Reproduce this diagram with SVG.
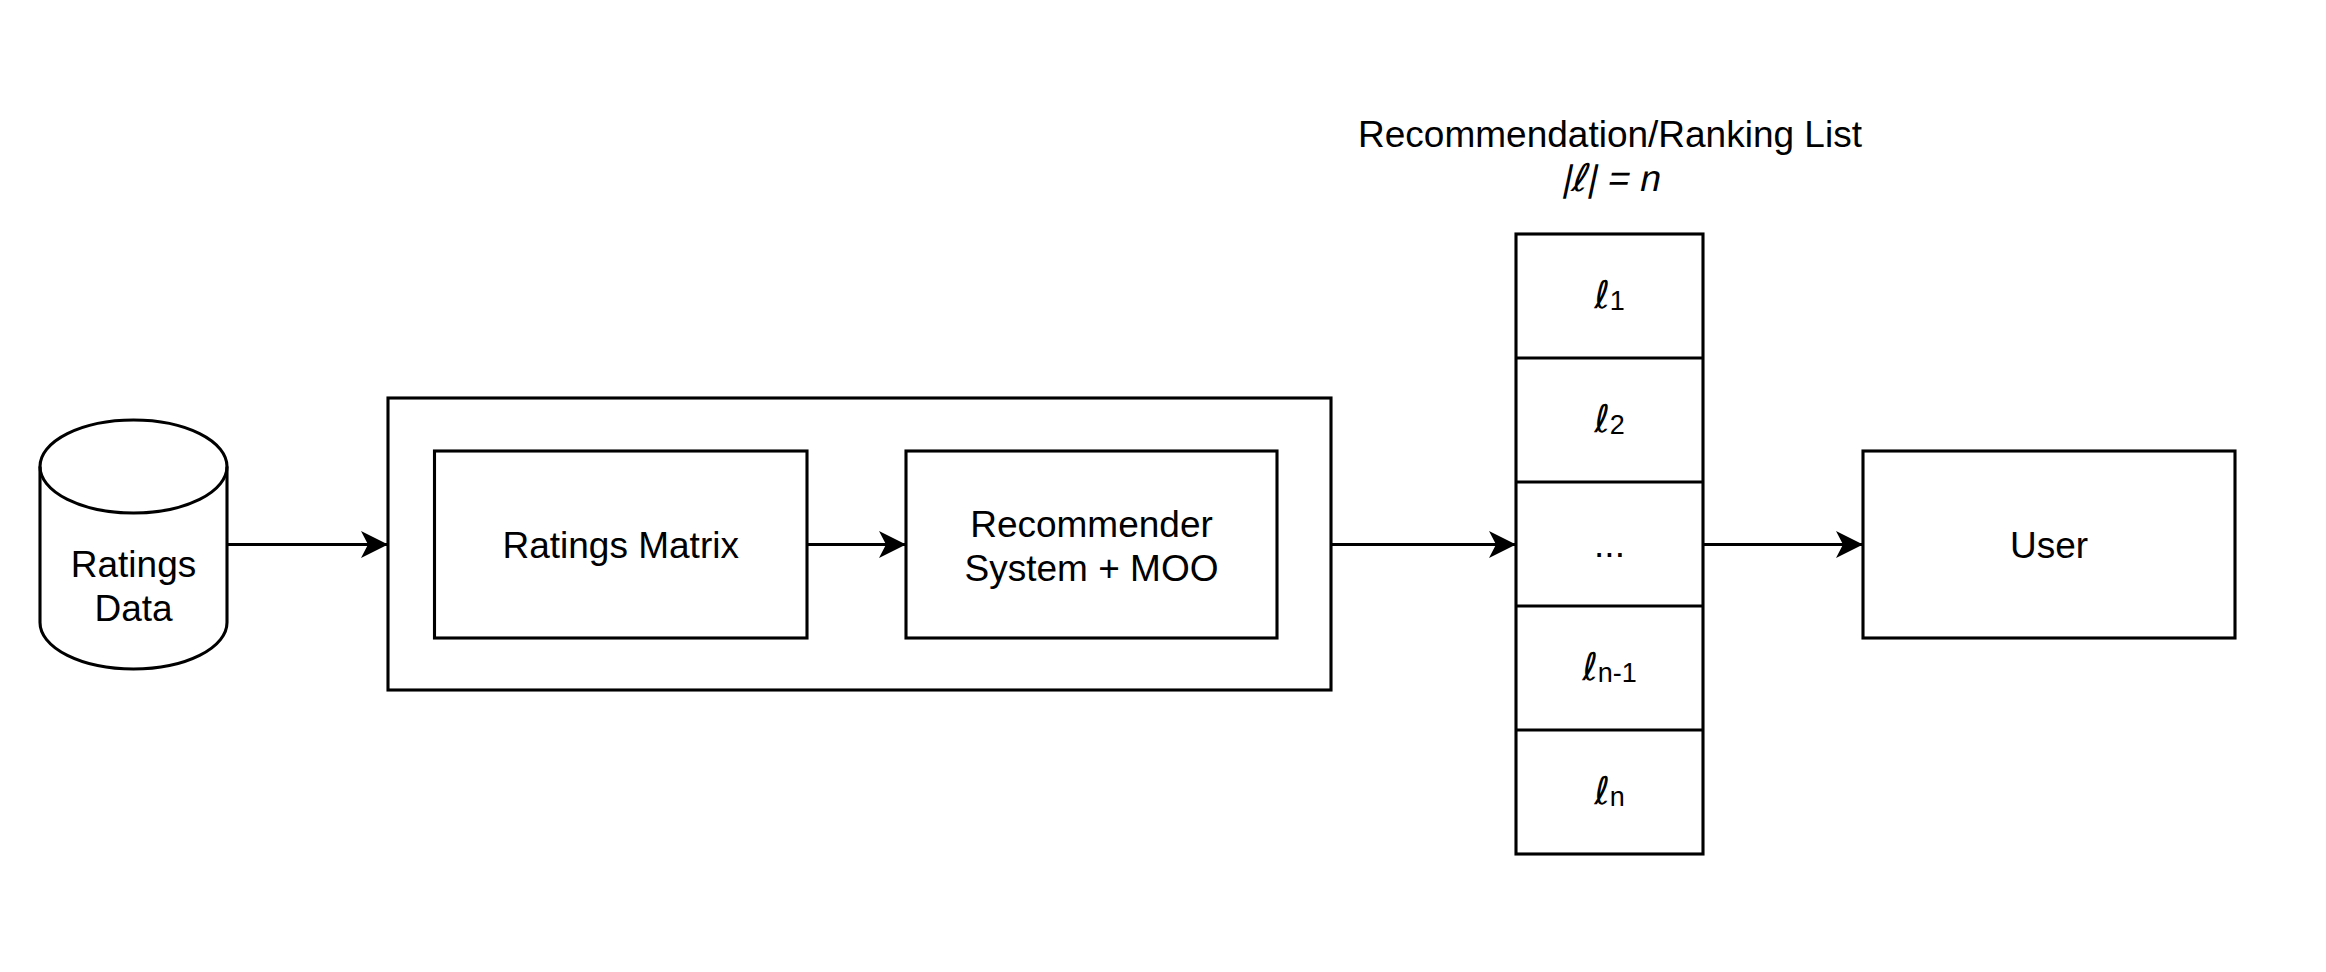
<svg xmlns="http://www.w3.org/2000/svg" width="2326" height="972" viewBox="0 0 2326 972">
<style>
.box{fill:#fff;stroke:#000;stroke-width:3.1}
.t{font-family:"Liberation Sans",Arial,sans-serif;font-size:37px;fill:#000;text-anchor:middle}
.ell{font-family:"DejaVu Sans",sans-serif;font-style:italic;font-size:38px}
.sub{font-size:27px}
.edge{fill:none;stroke:#000;stroke-width:3.1}
</style>
<defs>
<marker id="arr" markerUnits="userSpaceOnUse" markerWidth="28" markerHeight="28" refX="27" refY="13.5" orient="auto">
<path d="M0,0 L27,13.5 L0,27 L7,13.5 Z" fill="#000"/>
</marker>
</defs>
<rect width="2326" height="972" fill="#fff"/>
<g id="ratings-data">
<path class="box" d="M40,466.5 A93.5,46.5 0 0 1 227,466.5 L227,622.5 A93.5,46.5 0 0 1 40,622.5 Z"/>
<path class="edge" d="M40,466.5 A93.5,46.5 0 0 0 227,466.5"/>
<text class="t" x="133.5" y="577">Ratings</text>
<text class="t" x="133.5" y="621">Data</text>
</g>
<g id="pipeline">
<rect class="box" x="388" y="398" width="943" height="292"/>
</g>
<g id="ratings-matrix">
<rect class="box" x="434.5" y="451" width="372.5" height="187"/>
<text class="t" x="620.7" y="557.5">Ratings Matrix</text>
</g>
<g id="recommender">
<rect class="box" x="906" y="451" width="371" height="187"/>
<text class="t" x="1091.5" y="536.5">Recommender</text>
<text class="t" x="1091.5" y="581">System + MOO</text>
</g>
<g id="list-title">
<text class="t" x="1610" y="146.5">Recommendation/Ranking List</text>
<text class="t" transform="translate(1610,191) skewX(-12)" x="0" y="0">|<tspan class="ell" font-style="normal">ℓ</tspan>| = n</text>
</g>
<g id="ranking-list">
<rect class="box" x="1516" y="234" width="187" height="620"/>
<line class="edge" x1="1516" y1="358" x2="1703" y2="358"/>
<line class="edge" x1="1516" y1="482" x2="1703" y2="482"/>
<line class="edge" x1="1516" y1="606" x2="1703" y2="606"/>
<line class="edge" x1="1516" y1="730" x2="1703" y2="730"/>
<text class="t" x="1609.5" y="308"><tspan class="ell">ℓ</tspan><tspan class="sub" dy="2">1</tspan></text>
<text class="t" x="1609.5" y="432"><tspan class="ell">ℓ</tspan><tspan class="sub" dy="2">2</tspan></text>
<text class="t" x="1609.5" y="557">...</text>
<text class="t" x="1609.5" y="680"><tspan class="ell">ℓ</tspan><tspan class="sub" dy="2">n-1</tspan></text>
<text class="t" x="1609.5" y="804"><tspan class="ell">ℓ</tspan><tspan class="sub" dy="2">n</tspan></text>
</g>
<g id="user">
<rect class="box" x="1863" y="451" width="372" height="187"/>
<text class="t" x="2049" y="557.5">User</text>
</g>
<g id="connectors">
<line class="edge" x1="227" y1="544.5" x2="388" y2="544.5" marker-end="url(#arr)"/>
<line class="edge" x1="807" y1="544.5" x2="906" y2="544.5" marker-end="url(#arr)"/>
<line class="edge" x1="1331" y1="544.5" x2="1516" y2="544.5" marker-end="url(#arr)"/>
<line class="edge" x1="1703" y1="544.5" x2="1863" y2="544.5" marker-end="url(#arr)"/>
</g>
</svg>
